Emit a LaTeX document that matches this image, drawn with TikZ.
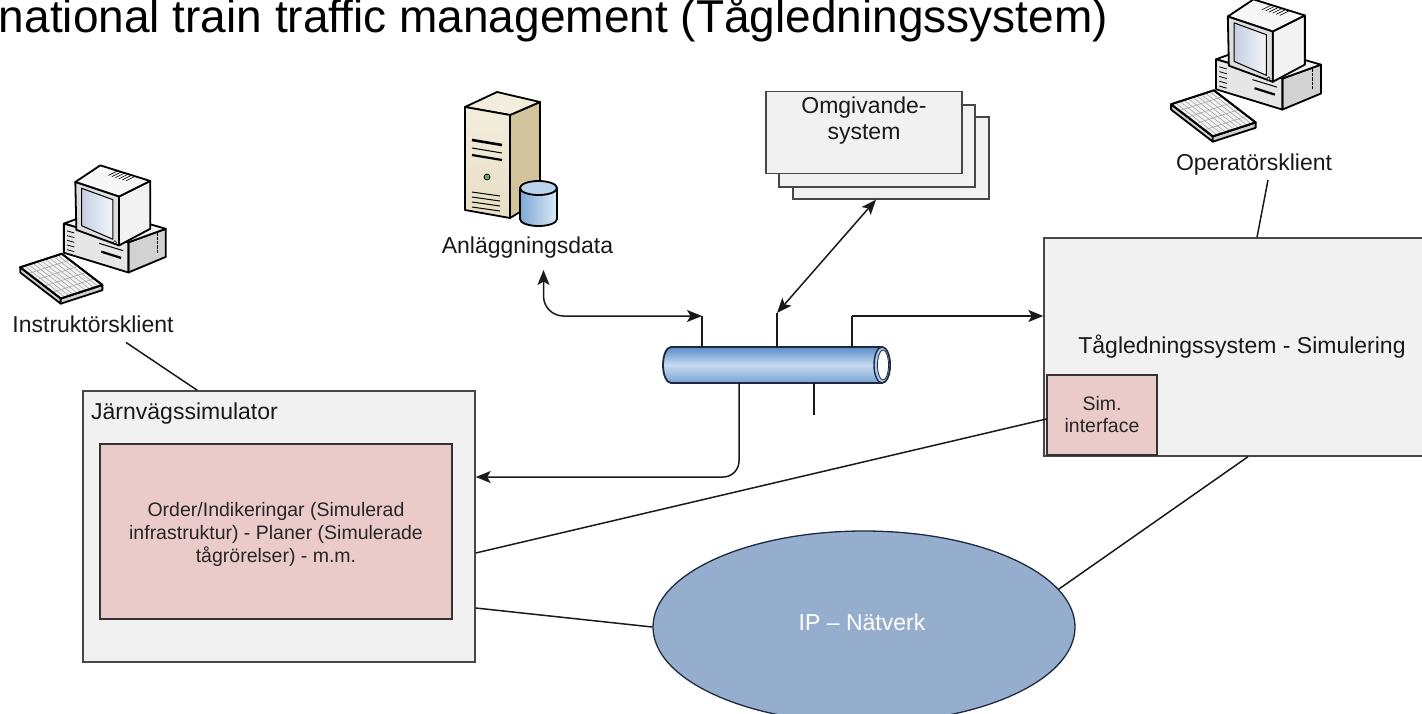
\documentclass[tikz,border=0pt]{standalone}
\usepackage{fontspec}
\setmainfont{Liberation Sans}
\usetikzlibrary{arrows.meta,shapes.geometric,calc}
\definecolor{boxgray}{HTML}{F1F1F1}
\definecolor{boxline}{HTML}{474747}
\definecolor{pinkfill}{HTML}{EBCACA}
\definecolor{ipfill}{HTML}{95AECD}
\definecolor{ipline}{HTML}{1E2A40}
\definecolor{pipetop}{HTML}{5B8BC6}
\definecolor{pipemid}{HTML}{C6DBF1}
\definecolor{pipebot}{HTML}{7AA3D3}
\definecolor{pipeend}{HTML}{A9C6E6}
\definecolor{cside}{HTML}{D2D2D2}
\definecolor{ctop}{HTML}{F4F4F4}
\definecolor{cfront}{HTML}{E6E6E6}
\definecolor{mside}{HTML}{F2F2F2}
\definecolor{mtop}{HTML}{F7F7F7}
\definecolor{mfront}{HTML}{DEDEDE}
\definecolor{screenL}{HTML}{C3CFE2}
\definecolor{screenR}{HTML}{F4F6FA}
\definecolor{ktop}{HTML}{F2F2F2}
\definecolor{kside}{HTML}{CFCFCF}
\definecolor{srvfront}{HTML}{E8DEC5}
\definecolor{srvtop}{HTML}{F3EDDD}
\definecolor{srvside}{HTML}{D3C39D}
\definecolor{ledgreen}{HTML}{5FA45F}
\definecolor{dbL}{HTML}{7FA7D3}
\definecolor{dbR}{HTML}{DCEAF8}
\definecolor{dbTop}{HTML}{BCD3EC}
\definecolor{connc}{HTML}{1A1A1A}
\tikzset{
  graybox/.style={draw=boxline, fill=boxgray, line width=1.4pt, inner sep=0pt},
  pinkbox/.style={draw=black!80, fill=pinkfill, line width=1.4pt, inner sep=0pt},
  lbl/.style={font=\fontsize{23}{27}\selectfont, inner sep=1pt, text=black!90},
  smalltxt/.style={font=\fontsize{19.5}{23}\selectfont, inner sep=0pt, text=black!85, align=center},
  conn/.style={draw=connc, line width=1.5pt},
  keyline/.style={draw=black!35, line width=0.6pt},
  pics/computer/.style={code={
    \begin{scope}[line width=1.8pt, line join=round]
      % case
      \filldraw[fill=cside] (34,-8) -- (70,5) -- (70,-22) -- (34,-37) -- cycle;
      \filldraw[fill=ctop] (-28,10) -- (8,23) -- (70,5) -- (34,-8) -- cycle;
      \filldraw[fill=cfront] (-28,10) -- (34,-8) -- (34,-37) -- (-28,-18) -- cycle;
      \foreach \i in {0,...,4} \draw[line width=0.8pt] (-25,{3-4.5*\i}) -- (-18,{1-4.5*\i});
      \draw[line width=1pt] (6,-9) -- (29,-16);
      \draw[line width=2.2pt] (8,-17) -- (27,-23);
      \foreach \i in {0,...,4} \draw[line width=0.6pt] (62,{1-4*\i}) -- (62,{-2-4*\i});
      % monitor
      \filldraw[fill=mside] (25,36) -- (55,51) -- (55,5) -- (25,-11) -- cycle;
      \filldraw[fill=mtop] (-17,50) -- (7,66) -- (55,51) -- (25,36) -- cycle;
      \filldraw[fill=mfront] (-17,50) -- (25,36) -- (25,-11) -- (-16,4) -- cycle;
      \filldraw[line width=1pt, left color=screenL, right color=screenR] (-11,44) -- (19,33) -- (19,-5) -- (-11,8) -- cycle;
      \filldraw[fill=white, line width=0.6pt] (21,-8) circle (1.6);
      \foreach \t in {0.35,0.42,0.49,0.56,0.63,0.70} \draw[line width=0.6pt] ($(7,66)!\t!(55,51)$) -- ++(-9,-4.5);
      % keyboard
      \filldraw[fill=kside] (-70,-32) -- (-31,-62) -- (-31,-67) -- (-70,-37) -- cycle;
      \filldraw[fill=kside] (-31,-62) -- (9,-49) -- (9,-54) -- (-31,-67) -- cycle;
      \filldraw[fill=ktop] (-70,-32) -- (-30,-19) -- (9,-49) -- (-31,-62) -- cycle;
      \foreach \t in {0.2,0.4,0.6,0.8}
        \draw[keyline] ($(-70,-32)!\t!(-31,-62)$) -- ($(-30,-19)!\t!(9,-49)$);
      \foreach \t in {0.1,0.2,0.3,0.4,0.5,0.6,0.7,0.8,0.9}
        \draw[keyline] ($(-70,-32)!\t!(-30,-19)$) -- ($(-31,-62)!\t!(9,-49)$);
      \draw[line width=1.8pt] (-70,-32) -- (-30,-19) -- (9,-49) -- (-31,-62) -- cycle;
    \end{scope}
  }}
}
\begin{document}
\begin{tikzpicture}[x=1pt, y=1pt, >={Stealth[length=15pt,width=12pt,inset=3.5pt]}]
\useasboundingbox (0,0) rectangle (1422,-713);
\fill[white] (0,0) rectangle (1422,-713);

% title
\node[anchor=base east, font=\fontsize{46}{55}\selectfont, inner sep=0pt] (title) at (1108,-32) {national train traffic management (Tågledningssystem)};

% computer icons
\pic[scale=1.04] at (93,-234) {computer};
\pic[scale=1.07] at (1246,-70) {computer};
\node[lbl, anchor=base] (instr) at (93,-332) {Instruktörsklient};
\node[lbl, anchor=base] (opk) at (1254,-170) {Operatörsklient};

% server icon
\begin{scope}[line width=1.8pt, line join=round]
  \filldraw[fill=srvside] (510,-115) -- (540,-102) -- (540,-200) -- (510,-218) -- cycle;
  \filldraw[fill=srvtop] (465,-107) -- (497,-92) -- (540,-102) -- (510,-115) -- cycle;
  \filldraw[top color=srvtop, bottom color=srvfront] (465,-107) -- (510,-115) -- (510,-218) -- (465,-210) -- cycle;
  \draw[line width=2.6pt] (472,-140) -- (502,-145);
  \draw[line width=1pt] (472,-148) -- (502,-153);
  \draw[line width=2.2pt] (472,-155) -- (502,-160);
  \filldraw[fill=ledgreen, line width=0.8pt] (487,-177) circle (3);
  \foreach \i in {0,...,3} \draw[line width=1pt] (472,{-192-5*\i}) -- (500,{-196-5*\i});
  \filldraw[left color=dbL, right color=dbR] (520,-188) -- (520,-219) arc[start angle=180, end angle=360, x radius=18.5, y radius=7] -- (557,-188) -- cycle;
  \filldraw[fill=dbTop] (538.5,-188) ellipse[x radius=18.5, y radius=7];
\end{scope}
\node[lbl, anchor=base] (anl) at (527.5,-253) {Anläggningsdata};

% Omgivande-system stack
\node[graybox, minimum width=196pt, minimum height=82pt] (omg3) at (891,-158) {};
\node[graybox, minimum width=196pt, minimum height=82pt] (omg2) at (877,-146) {};
\node[graybox, minimum width=196pt, minimum height=82pt] (omg1) at (864,-132.5) {};
\node[lbl, align=center, anchor=north, inner sep=0pt, font=\fontsize{23}{26}\selectfont] (omgtxt) at (864,-97) {Omgivande-\\system};

% Jarnvagssimulator
\node[graybox, minimum width=392pt, minimum height=271pt] (jv) at (279,-526.5) {};
\node[lbl, anchor=base west] (jvlbl) at (90,-419) {Järnvägssimulator};
\node[pinkbox, minimum width=352pt, minimum height=175pt] (ord) at (276,-531.5) {};
\node[smalltxt] (ordtxt) at (276,-534) {Order/Indikeringar (Simulerad\\infrastruktur) - Planer (Simulerade\\tågrörelser) - m.m.};

% Tagledningssystem
\node[graybox, minimum width=396pt, minimum height=218pt] (tag) at (1242,-347) {};
\node[lbl, anchor=base] (taglbl) at (1242,-353) {Tågledningssystem - Simulering};
\node[pinkbox, minimum width=110pt, minimum height=80pt, font=\fontsize{19.5}{22}\selectfont, align=center, text=black!85] (sim) at (1102,-415) {Sim.\\interface};

% IP network
\node[ellipse, draw=ipline, fill=ipfill, line width=1.3pt, minimum width=422pt, minimum height=192pt, inner sep=0pt] (ip) at (864,-627) {};
\node[lbl, anchor=base, text=white] (iptxt) at (862,-630) {IP – Nätverk};

% pipe (bus)
\node[minimum width=227pt, minimum height=36pt, inner sep=0pt] (pipe) at (776.5,-365) {};
\shade[top color=pipetop, bottom color=pipebot, middle color=pipemid]
  (882,-347) -- (671,-347) arc[start angle=90, end angle=270, x radius=8, y radius=18] -- (882,-383) arc[start angle=-90, end angle=90, x radius=8, y radius=18] -- cycle;
\draw[draw=ipline, line width=1.8pt]
  (882,-347) -- (671,-347) arc[start angle=90, end angle=270, x radius=8, y radius=18] -- (882,-383) arc[start angle=-90, end angle=90, x radius=8, y radius=18] -- cycle;
\filldraw[fill=pipeend, draw=ipline, line width=1.4pt] (882,-365) ellipse[x radius=8, y radius=18];
\filldraw[fill=white, draw=ipline, line width=0.8pt] (883,-365) ellipse[x radius=5.5, y radius=15];

% stub points on the pipe
\coordinate (pt1) at (702,-316);
\coordinate (pt2) at (777,-313);
\coordinate (pt3) at (852,-316);
\coordinate (pb1) at (739,-383);
\coordinate (pb2) at (814,-383);
\draw[conn] (pt1) -- (pt1 |- pipe.north);
\draw[conn] (pt2) -- (pt2 |- pipe.north);
\draw[conn] (pt3) -- (pt3 |- pipe.north);
\draw[conn] (pb2) -- ++(0,-32);

% connectors
\draw[conn, <->, rounded corners=20pt] ([xshift=16pt,yshift=-11pt]anl.south) |- (pt1);
\draw[conn, <->] (pt2) -- ([xshift=-15pt]omg3.south);
\draw[conn, ->] (pt3) -- (pt3 -| tag.west);
\draw[conn, ->, rounded corners=16pt] (pb1) |- ([yshift=49.5pt]jv.east);
\draw[conn] ([yshift=-4pt]sim.west) -- ([yshift=-26.5pt]jv.east);
\draw[conn] ([yshift=-81.5pt]jv.east) -- (ip.west);
\draw[conn] (ip.11.5) -- ([xshift=6pt]tag.south);
\draw[conn] ([xshift=33pt,yshift=-9pt]instr.south) -- ([xshift=115pt]jv.north west);
\draw[conn] ([xshift=14pt,yshift=-4pt]opk.south) -- ([xshift=15pt]tag.north);
\end{tikzpicture}
\end{document}
